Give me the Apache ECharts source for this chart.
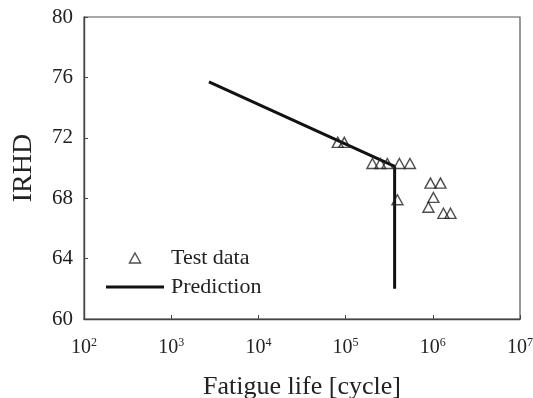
<!DOCTYPE html>
<html>
<head>
<meta charset="utf-8">
<script src="https://cdn.jsdelivr.net/npm/echarts@6/dist/echarts.min.js"></script>
<style>
  html, body { margin: 0; padding: 0; background: #fff; }
  #chart { width: 533px; height: 398px; }
</style>
</head>
<body>
<div id="chart"></div>
<script>
// Measured hardness (IRHD) against fatigue life
const testLife = [81300, 96600, 203000, 250000, 301000, 414000, 547000, 393000, 940000, 1225000, 1016000, 891000, 1324000, 1595000];
const testIRHD = [71.7, 71.7, 70.3, 70.3, 70.3, 70.3, 70.3, 67.9, 69.0, 69.0, 68.05, 67.4, 67.0, 67.0];

// Model prediction: gradual decline, then sudden drop at failure
const predLife = [2710, 365000, 365000];
const predIRHD = [75.7, 70.1, 62.0];

// Axis settings
const xMin = 100, xMax = 1e7;
const yMin = 60, yMax = 80, yStep = 4;
const xTitle = 'Fatigue life [cycle]';
const yTitle = 'IRHD';
const seriesNames = ['Test data', 'Prediction'];

const serif = '"Liberation Serif", "DejaVu Serif", serif';
const ink = '#222';

const chart = echarts.init(document.getElementById('chart'));
chart.setOption({
  animation: false,
  backgroundColor: '#fff',
  textStyle: { fontFamily: serif, color: ink },
  grid: {
    left: 84, right: 13, top: 17, bottom: 79,
    outerBoundsMode: 'none',
    containLabel: false,
    show: true, borderColor: '#555', borderWidth: 1.2, backgroundColor: 'transparent'
  },
  legend: {
    orient: 'vertical',
    left: 101, top: 242,
    itemWidth: 58, itemHeight: 10, itemGap: 7,
    symbolKeepAspect: true,
    data: [
      {
        name: seriesNames[0],
        icon: 'path://M5,0 L10,9 L0,9 Z',
        itemStyle: { color: 'transparent', borderColor: ink, borderWidth: 1.4 }
      },
      {
        name: seriesNames[1],
        icon: 'path://M0,0 L58,0 L58,3 L0,3 Z',
        itemStyle: { color: '#111', borderWidth: 0 }
      }
    ],
    textStyle: { fontFamily: serif, fontSize: 22, color: ink, padding: [0, 0, 0, 2] }
  },
  xAxis: {
    type: 'log', logBase: 10, min: xMin, max: xMax,
    name: xTitle, nameLocation: 'middle', nameGap: 55,
    nameTextStyle: { fontFamily: serif, fontSize: 26, color: ink },
    axisLine: { show: true, lineStyle: { color: '#444', width: 1.4 } },
    axisTick: { show: true, inside: true, length: 4, lineStyle: { color: '#444' } },
    splitLine: { show: false },
    minorTick: { show: false },
    axisLabel: {
      margin: 18, color: ink, fontFamily: serif, fontSize: 20, lineHeight: 22,
      formatter: v => '10{s|' + Math.round(Math.log10(v)) + '}',
      rich: { s: { fontSize: 12, verticalAlign: 'top', lineHeight: 22, fontFamily: serif, color: ink } }
    }
  },
  yAxis: {
    type: 'value', min: yMin, max: yMax, interval: yStep,
    name: yTitle, nameLocation: 'middle', nameGap: 46, nameRotate: 90,
    nameTextStyle: { fontFamily: serif, fontSize: 28, color: ink },
    axisLine: { show: true, lineStyle: { color: '#444', width: 1.4 } },
    axisTick: { show: true, inside: true, length: 4, lineStyle: { color: '#444' } },
    splitLine: { show: false },
    axisLabel: { margin: 11, color: ink, fontFamily: serif, fontSize: 21 }
  },
  series: [
    {
      name: seriesNames[0],
      type: 'scatter',
      symbol: 'triangle',
      symbolSize: [11, 10],
      itemStyle: { color: 'transparent', borderColor: ink, borderWidth: 1.4 },
      data: testLife.map((x, i) => [x, testIRHD[i]]),
      z: 3
    },
    {
      name: seriesNames[1],
      type: 'line',
      showSymbol: false,
      symbol: 'none',
      lineStyle: { color: '#111', width: 3 },
      itemStyle: { color: '#111' },
      data: predLife.map((x, i) => [x, predIRHD[i]]),
      z: 2
    }
  ]
});
</script>
</body>
</html>
